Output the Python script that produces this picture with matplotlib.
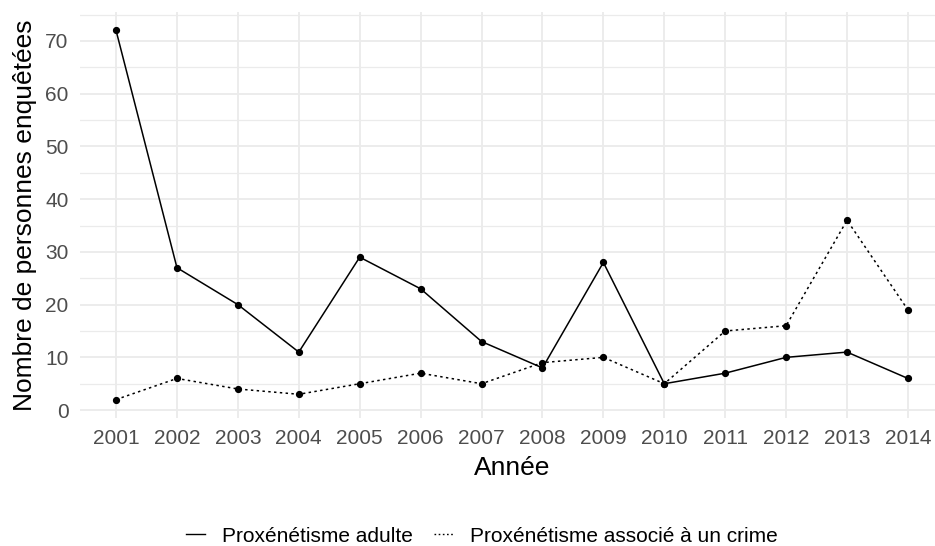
import matplotlib
matplotlib.use("Agg")
import matplotlib.pyplot as plt
from matplotlib.lines import Line2D

years = ["2001", "2002", "2003", "2004", "2005", "2006", "2007",
         "2008", "2009", "2010", "2011", "2012", "2013", "2014"]
adulte = [72, 27, 20, 11, 29, 23, 13, 8, 28, 5, 7, 10, 11, 6]
crime = [2, 6, 4, 3, 5, 7, 5, 9, 10, 5, 15, 16, 36, 19]
series_names = ["Proxénétisme adulte", "Proxénétisme associé à un crime"]
yticks = [0, 10, 20, 30, 40, 50, 60, 70]

plt.rcParams['font.family'] = ['Liberation Sans', 'DejaVu Sans']

W, H = 935, 546
fig = plt.figure(figsize=(W / 100, H / 100), dpi=100)
left, right, top, bottom = 79.5, 944.5, 12, 418
ax = fig.add_axes([left / W, 1 - bottom / H, (right - left) / W, (bottom - top) / H])

x = list(range(len(years)))
ax.plot(x, adulte, color="black", lw=1.1, linestyle="-", marker="o", ms=4.2, zorder=3)
ax.plot(x, crime, color="black", lw=1.1, linestyle=(0, (1.6, 2.2)), marker="o", ms=4.2, zorder=3)

ax.set_xlim(-0.6, len(years) - 1 + 0.6)
ax.set_ylim(-1.5, 75.5)
ax.set_xticks(x)
ax.set_xticklabels(years)
ax.set_yticks(yticks)
ax.set_yticks([5, 15, 25, 35, 45, 55, 65, 75], minor=True)

ax.grid(True, which="major", color="#EBEBEB", lw=1.3)
ax.grid(True, which="minor", axis="y", color="#EBEBEB", lw=0.9)
ax.set_axisbelow(True)
for s in ax.spines.values():
    s.set_visible(False)
ax.tick_params(which="both", length=0)
ax.tick_params(axis="both", labelsize=15, labelcolor="#4D4D4D")
ax.tick_params(axis="x", pad=8)
ax.tick_params(axis="y", pad=8)

ax.set_xlabel("Année", fontsize=19, labelpad=6)
ax.set_ylabel("Nombre de personnes enquêtées", fontsize=19, labelpad=6)

handles = [Line2D([], [], color="black", lw=1.0, linestyle="-"),
           Line2D([], [], color="black", lw=1.0, linestyle=(0, (1.2, 1.8)))]
fig.legend(handles, series_names, loc="center", bbox_to_anchor=(482 / W, 1 - 536 / H),
           ncol=2, frameon=False, fontsize=15, handlelength=0.9,
           handletextpad=0.85, columnspacing=1.0, borderpad=0, borderaxespad=0)

fig.savefig("out.png", dpi=100, facecolor="white")
